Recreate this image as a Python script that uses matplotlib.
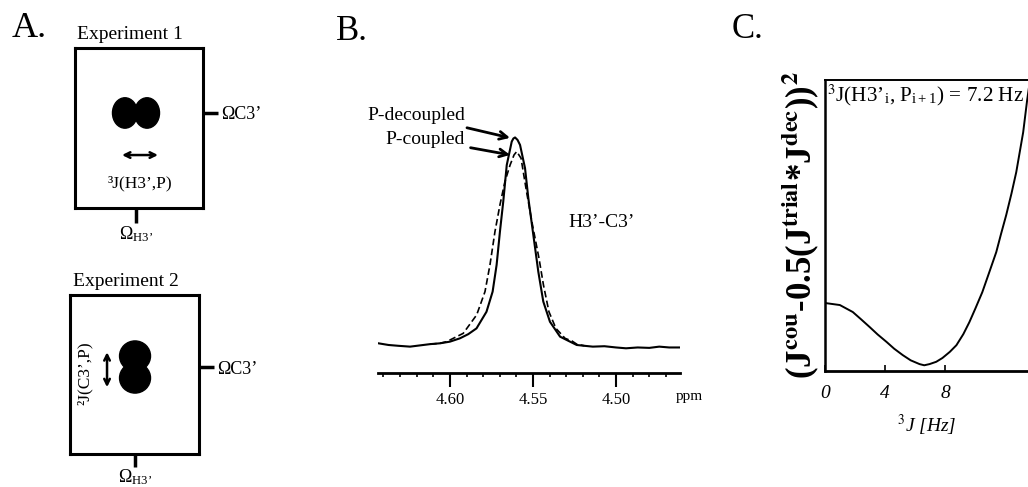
import numpy as np
import matplotlib
matplotlib.use('Agg')
import matplotlib.pyplot as plt
from matplotlib.patches import Ellipse

plt.rcParams['font.family'] = ['Liberation Serif', 'DejaVu Serif']
plt.rcParams['mathtext.fontset'] = 'stix'

# --- panel A: schematic cross peaks (box coordinates 0..1) ---
exp1_peak_x = [0.39, 0.5625]
exp1_peak_y = [0.594, 0.594]
exp2_peak_x = [0.504, 0.504]
exp2_peak_y = [0.616, 0.478]
exp1_coupling = [(0.367, 0.331), (0.648, 0.331)]
exp2_coupling = [(0.287, 0.64), (0.287, 0.42)]

# --- panel B: H3'-C3' slices (ppm, relative intensity) ---
ppm_dec = [4.643, 4.637, 4.631, 4.624, 4.618, 4.612, 4.606, 4.600, 4.594, 4.589,
           4.584, 4.578, 4.5743, 4.5719, 4.5699, 4.5679, 4.5658, 4.5628, 4.5618,
           4.5608, 4.5593, 4.5578, 4.5548, 4.5528, 4.5498, 4.5468, 4.5438, 4.5398,
           4.5337, 4.5277, 4.5237, 4.519, 4.514, 4.507, 4.500, 4.494, 4.487, 4.480,
           4.474, 4.468, 4.4615]
int_dec = [0.008, 0.000, -0.004, -0.008, -0.002, 0.004, 0.008, 0.016, 0.032, 0.052,
           0.080, 0.160, 0.257, 0.386, 0.546, 0.691, 0.867, 0.980, 0.995,
           1.000, 0.988, 0.964, 0.852, 0.707, 0.530, 0.353, 0.209, 0.112,
           0.040, 0.016, 0.000, -0.004, -0.008, -0.006, -0.012, -0.016, -0.012, -0.014,
           -0.008, -0.012, -0.012]
ppm_cou = [4.612, 4.606, 4.602, 4.592, 4.5839, 4.5789, 4.5759, 4.5729, 4.5699, 4.5669,
           4.5638, 4.5614, 4.5598, 4.5572, 4.5539, 4.5503, 4.5464, 4.5437, 4.5404,
           4.5362, 4.5307, 4.5265, 4.5237, 4.519]
int_cou = [0.004, 0.008, 0.016, 0.056, 0.145, 0.257, 0.386, 0.546, 0.675, 0.787,
           0.867, 0.916, 0.932, 0.900, 0.739, 0.578, 0.418, 0.289, 0.160,
           0.080, 0.032, 0.019, 0.004, -0.004]
ppm_ticks = [4.60, 4.55, 4.50]

# --- panel C: target function vs trial 3J ---
j_trial = [0, 0.99, 1.85, 2.4, 2.98, 3.5, 4.1, 4.6, 5.17, 5.7, 6.29, 6.6, 6.95, 7.4,
           7.81, 8.3, 8.74, 9.2, 9.6, 10.0, 10.46, 10.9, 11.39, 11.7, 12.05, 12.4,
           12.72, 13.18, 13.44, 13.55]
target = [0.234, 0.227, 0.203, 0.178, 0.151, 0.126, 0.100, 0.077, 0.055, 0.037,
          0.024, 0.020, 0.024, 0.032, 0.045, 0.066, 0.089, 0.127, 0.168, 0.215,
          0.271, 0.336, 0.409, 0.47, 0.536, 0.61, 0.684, 0.821, 0.93, 0.97]
j_ticks = [0, 4, 8]

fig = plt.figure(figsize=(10.28, 4.87), dpi=100)


def draw_box(rect, px, py, coupling, title, jlabel, jlabel_pos, rot, ew, xtick_len):
    ax = fig.add_axes(rect)
    ax.set_xlim(0, 1)
    ax.set_ylim(0, 1)
    for s in ax.spines.values():
        s.set_linewidth(2.2)
    for x, y in zip(px, py):
        ax.add_patch(Ellipse((x, y), ew, 0.19, color='black'))
    ax.annotate('', xy=coupling[0], xytext=coupling[1],
                arrowprops=dict(arrowstyle='<->', lw=1.8, color='black',
                                shrinkA=0, shrinkB=0))
    ax.text(jlabel_pos[0], jlabel_pos[1], jlabel, fontsize=12.5, ha='center',
            va='center', rotation=rot)
    ax.text(0.43, 1.03, title, fontsize=14, ha='center', va='bottom')
    ax.set_xticks([np.mean(px)])
    ax.set_xticklabels(['Ω$_{\\mathregular{H3’}}$'])
    ax.yaxis.tick_right()
    ax.set_yticks([np.mean(py)])
    ax.set_yticklabels(['ΩC3’'])
    ax.tick_params(length=11, width=2.5, labelsize=13, pad=2)
    ax.tick_params(axis='x', length=xtick_len, pad=1)
    return ax


draw_box([0.073, 0.5729, 0.1245, 0.3285], exp1_peak_x, exp1_peak_y, exp1_coupling,
         'Experiment 1', '³J(H3’,P)', (0.508, 0.156), 0, 0.195, 11)
draw_box([0.0681, 0.0678, 0.1255, 0.3265], exp2_peak_x, exp2_peak_y, exp2_coupling,
         'Experiment 2', '²J(C3’,P)', (0.116, 0.51), 90, 0.24, 9)

# panel B
axb = fig.add_axes([0.3677, 0.2341, 0.2938, 0.499])
axb.plot(ppm_dec, int_dec, color='black', lw=1.5)
axb.plot(ppm_cou, int_cou, color='black', lw=1.2, ls=(0, (4, 2)))
axb.set_xlim(4.6433, 4.4615)
axb.set_ylim(-0.135, 1.036)
for s in ['left', 'right', 'top']:
    axb.spines[s].set_visible(False)
axb.spines['bottom'].set_linewidth(2)
axb.set_yticks([])
axb.set_xticks(ppm_ticks)
axb.set_xticklabels(['%.2f' % t for t in ppm_ticks])
axb.set_xticks(np.arange(4.64, 4.46, -0.01), minor=True)
axb.tick_params(axis='x', which='major', length=10, width=1.5, labelsize=12, pad=4)
axb.tick_params(axis='x', which='minor', length=3, width=1.2)
axb.text(1.03, -0.07, 'ppm', transform=axb.transAxes, fontsize=11, ha='center', va='top')
axb.text(0.63, 0.62, 'H3’-C3’', transform=axb.transAxes, fontsize=14, ha='left', va='center')
axb.annotate('P-decoupled', xy=(4.5638, 0.998), xytext=(4.5909, 1.104),
             ha='right', va='center', fontsize=14, annotation_clip=False,
             arrowprops=dict(arrowstyle='->', lw=2, color='black', shrinkA=2, shrinkB=0))
axb.annotate('P-coupled', xy=(4.5638, 0.916), xytext=(4.5909, 0.99),
             ha='right', va='center', fontsize=14, annotation_clip=False,
             arrowprops=dict(arrowstyle='->', lw=2, color='black', shrinkA=2, shrinkB=0))

# panel C
axc = fig.add_axes([0.8025, 0.238, 0.1975, 0.5975])
axc.plot(j_trial, target, color='black', lw=1.4)
axc.set_xlim(0, 13.5)
axc.set_ylim(0, 1)
axc.spines['right'].set_visible(False)
axc.spines['left'].set_linewidth(1.8)
axc.spines['bottom'].set_linewidth(2)
axc.spines['top'].set_linewidth(1.4)
axc.set_yticks([])
axc.set_xticks(j_ticks)
axc.set_xticklabels([str(t) for t in j_ticks], fontstyle='italic')
axc.tick_params(axis='x', direction='in', length=4, width=1.2, labelsize=14, pad=10)
axc.set_xlabel('$^{3}$J [Hz]', fontstyle='italic', fontsize=14, labelpad=8)
axc.set_ylabel('(J$^{\\mathbf{cou}}$-0.5(J$^{\\mathbf{trial}}$*J$^{\\mathbf{dec}}$))$^{\\mathbf{2}}$',
               fontsize=25, fontweight='bold', labelpad=3)
axc.text(0.008, 0.992, '$^{3}$J(H3’$_{\\mathregular{i}}$, P$_{\\mathregular{i+1}}$) = 7.2 Hz',
         transform=axc.transAxes, fontsize=15.2, ha='left', va='top')

fig.text(0.011, 0.924, 'A.', fontsize=26, va='baseline')
fig.text(0.327, 0.918, 'B.', fontsize=25, va='baseline')
fig.text(0.712, 0.922, 'C.', fontsize=25, va='baseline')

fig.savefig('out.png', dpi=100)
